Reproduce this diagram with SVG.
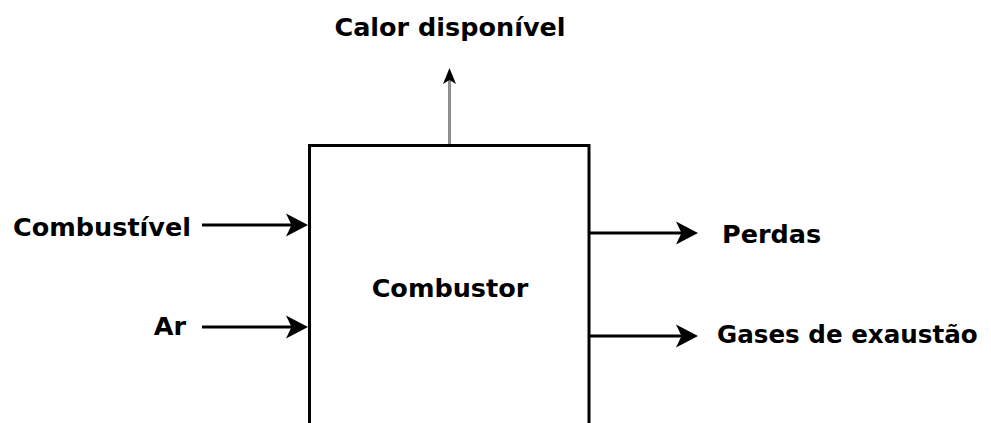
<svg xmlns="http://www.w3.org/2000/svg" width="991" height="423" viewBox="0 0 991 423">
  <style>
    .lbl { font-family: "DejaVu Sans", "Liberation Sans", sans-serif; font-weight: bold; font-size: 25.5px; fill: #000; }
    .lbl-s { font-size: 24.6px; }
    .edge { stroke: #000; stroke-width: 3; fill: none; }
    .edge-gray { stroke: #8e8e8e; stroke-width: 3; fill: none; }
    .node { fill: #fff; stroke: #000; stroke-width: 3; }
  </style>
  <defs>
    <marker id="arrow" markerUnits="userSpaceOnUse" viewBox="0 0 22 24" markerWidth="22" markerHeight="24" refX="10" refY="12" orient="auto">
      <path d="M22,12 L0,0.5 L5.5,12 L0,23.5 Z" fill="#000"/>
    </marker>
    <marker id="arrow-small" markerUnits="userSpaceOnUse" viewBox="0 0 16 14" markerWidth="16" markerHeight="14" refX="8" refY="7" orient="auto">
      <path d="M16,7 L0,0.5 L4,7 L0,13.5 Z" fill="#000"/>
    </marker>
  </defs>
  <rect width="991" height="423" fill="#fff"/>

  <g id="combustor">
    <rect class="node" x="309.5" y="145.5" width="279.5" height="300"/>
    <text class="lbl" x="450" y="297" text-anchor="middle">Combustor</text>
  </g>

  <g id="calor-disponivel">
    <text class="lbl" x="450" y="36" text-anchor="middle">Calor disponível</text>
  </g>
  <g id="combustivel">
    <text class="lbl" x="191" y="236" text-anchor="end">Combustível</text>
  </g>
  <g id="ar">
    <text class="lbl" x="186" y="335" text-anchor="end">Ar</text>
  </g>
  <g id="perdas">
    <text class="lbl" x="722" y="243">Perdas</text>
  </g>
  <g id="gases-de-exaustao">
    <text class="lbl lbl-s" x="717" y="343">Gases de exaustão</text>
  </g>

  <g id="connectors">
    <line class="edge-gray" x1="449.5" y1="144" x2="449.5" y2="76" marker-end="url(#arrow-small)"/>
    <line class="edge" x1="202" y1="225" x2="296" y2="225" marker-end="url(#arrow)"/>
    <line class="edge" x1="202" y1="327" x2="296" y2="327" marker-end="url(#arrow)"/>
    <line class="edge" x1="590" y1="233" x2="686" y2="233" marker-end="url(#arrow)"/>
    <line class="edge" x1="590" y1="336" x2="686" y2="336" marker-end="url(#arrow)"/>
  </g>
</svg>
